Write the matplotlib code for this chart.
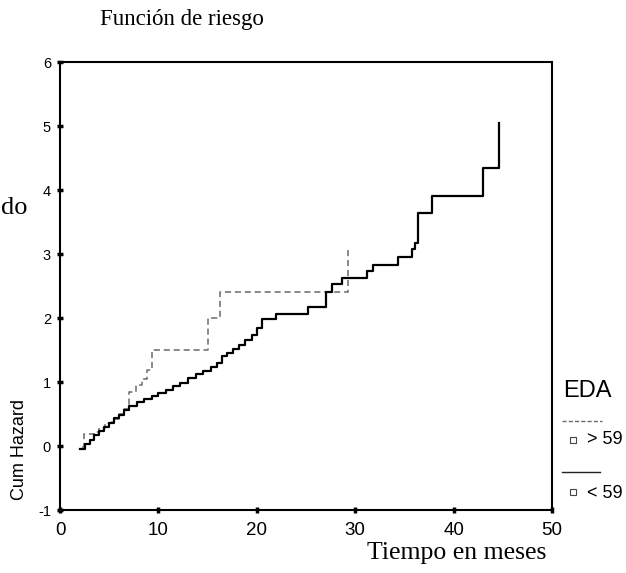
import matplotlib
matplotlib.use("Agg")
import matplotlib.pyplot as plt
from matplotlib import font_manager
from matplotlib.lines import Line2D

# ---- data ----
time_lt59 = [2.0, 2.5, 3.0, 3.5, 4.0, 4.5, 5.0, 5.5, 6.0, 6.5, 7.0, 7.8, 8.5, 9.3,
             10.0, 10.8, 11.5, 12.2, 13.0, 13.8, 14.5, 15.3, 16.0, 16.5, 17.0,
             17.6, 18.2, 18.8, 19.5, 20.0, 20.5, 22.0, 25.2, 27.0, 27.6, 28.7,
             31.2, 31.8, 34.3, 35.8, 36.1, 36.4, 37.8, 43.0, 44.6]
haz_lt59 = [-0.05, 0.03, 0.10, 0.17, 0.24, 0.30, 0.36, 0.43, 0.49, 0.56, 0.63,
            0.68, 0.73, 0.78, 0.83, 0.88, 0.94, 0.99, 1.06, 1.12, 1.17, 1.23,
            1.30, 1.40, 1.46, 1.52, 1.58, 1.65, 1.73, 1.85, 1.98, 2.07, 2.17,
            2.40, 2.53, 2.63, 2.74, 2.83, 2.96, 3.08, 3.17, 3.64, 3.91, 4.35, 5.05]

time_gt59 = [2.2, 2.4, 3.5, 4.0, 4.6, 5.3, 6.0, 6.5, 7.0, 7.7, 8.3, 8.8, 9.3,
             15.0, 16.3, 29.3]
haz_gt59 = [-0.02, 0.18, 0.22, 0.28, 0.36, 0.42, 0.50, 0.58, 0.85, 0.95, 1.05,
            1.18, 1.50, 2.00, 2.40, 3.10]

x_ticks = [0, 10, 20, 30, 40, 50]
y_ticks = [-1, 0, 1, 2, 3, 4, 5, 6]
legend_title = "EDA"
legend_labels = ["> 59", "< 59"]

# ---- fonts ----
names = {f.name for f in font_manager.fontManager.ttflist}
narrow = "Liberation Sans Narrow" if "Liberation Sans Narrow" in names else "Liberation Sans"
serif = "Liberation Serif"

W, H = 626, 573
fig = plt.figure(figsize=(W / 100, H / 100), dpi=100)
ax = fig.add_axes([60 / W, 1 - 510 / H, (552 - 60) / W, (510 - 62) / H])

ax.step(time_gt59, haz_gt59, where="post", color="#6a6a6a", lw=1.1,
        linestyle=(0, (4, 2.5)))
ax.step(time_lt59, haz_lt59, where="post", color="black", lw=1.6)

ax.set_xlim(0, 50)
ax.set_ylim(-1, 6)
ax.set_xticks(x_ticks)
ax.set_yticks(y_ticks)
ax.set_xticklabels([str(v) for v in x_ticks], fontfamily=narrow, fontsize=13.5)
ax.set_yticklabels([str(v) for v in y_ticks], fontfamily=narrow, fontsize=10.5)
ax.tick_params(axis="x", direction="inout", length=5, width=2.5, pad=6)
ax.tick_params(axis="y", direction="inout", length=5, width=2.5, pad=4)
for s in ax.spines.values():
    s.set_linewidth(1.5)
    s.set_color("black")

# titles / labels
fig.text(100 / W, 1 - 19 / H, "Función de riesgo", fontfamily=serif,
         fontsize=16.5, ha="left", va="center")
fig.text(546 / W, 1 - 553 / H, "Tiempo en meses", fontfamily=serif,
         fontsize=18.5, ha="right", va="center")
fig.text(1 / W, 1 - 208 / H, "do", fontfamily=serif, fontsize=19,
         ha="left", va="center")
fig.text(20 / W, 1 - 450 / H, "Cum Hazard", fontfamily=narrow, fontsize=13,
         rotation=90, ha="center", va="center")

# legend (hand-built)
fig.text(563 / W, 1 - 391 / H, legend_title, fontfamily=narrow, fontsize=17,
         ha="left", va="center")
fig.add_artist(Line2D([562 / W, 602 / W], [1 - 421 / H, 1 - 421 / H],
                      color="#6a6a6a", lw=1.0, linestyle=(0, (3, 1.5))))
fig.add_artist(Line2D([573 / W], [1 - 440 / H], marker="s", markersize=5,
                      markerfacecolor="white", markeredgecolor="#444444",
                      markeredgewidth=0.8, linestyle="none"))
fig.text(587 / W, 1 - 440 / H, legend_labels[0], fontfamily=narrow, fontsize=13,
         ha="left", va="center")
fig.add_artist(Line2D([562 / W, 600 / W], [1 - 472 / H, 1 - 472 / H],
                      color="#222222", lw=1.0))
fig.add_artist(Line2D([573 / W], [1 - 492 / H], marker="s", markersize=5,
                      markerfacecolor="white", markeredgecolor="#444444",
                      markeredgewidth=0.8, linestyle="none"))
fig.text(587 / W, 1 - 493 / H, legend_labels[1], fontfamily=narrow, fontsize=13,
         ha="left", va="center")

fig.savefig("out.png", dpi=100)
